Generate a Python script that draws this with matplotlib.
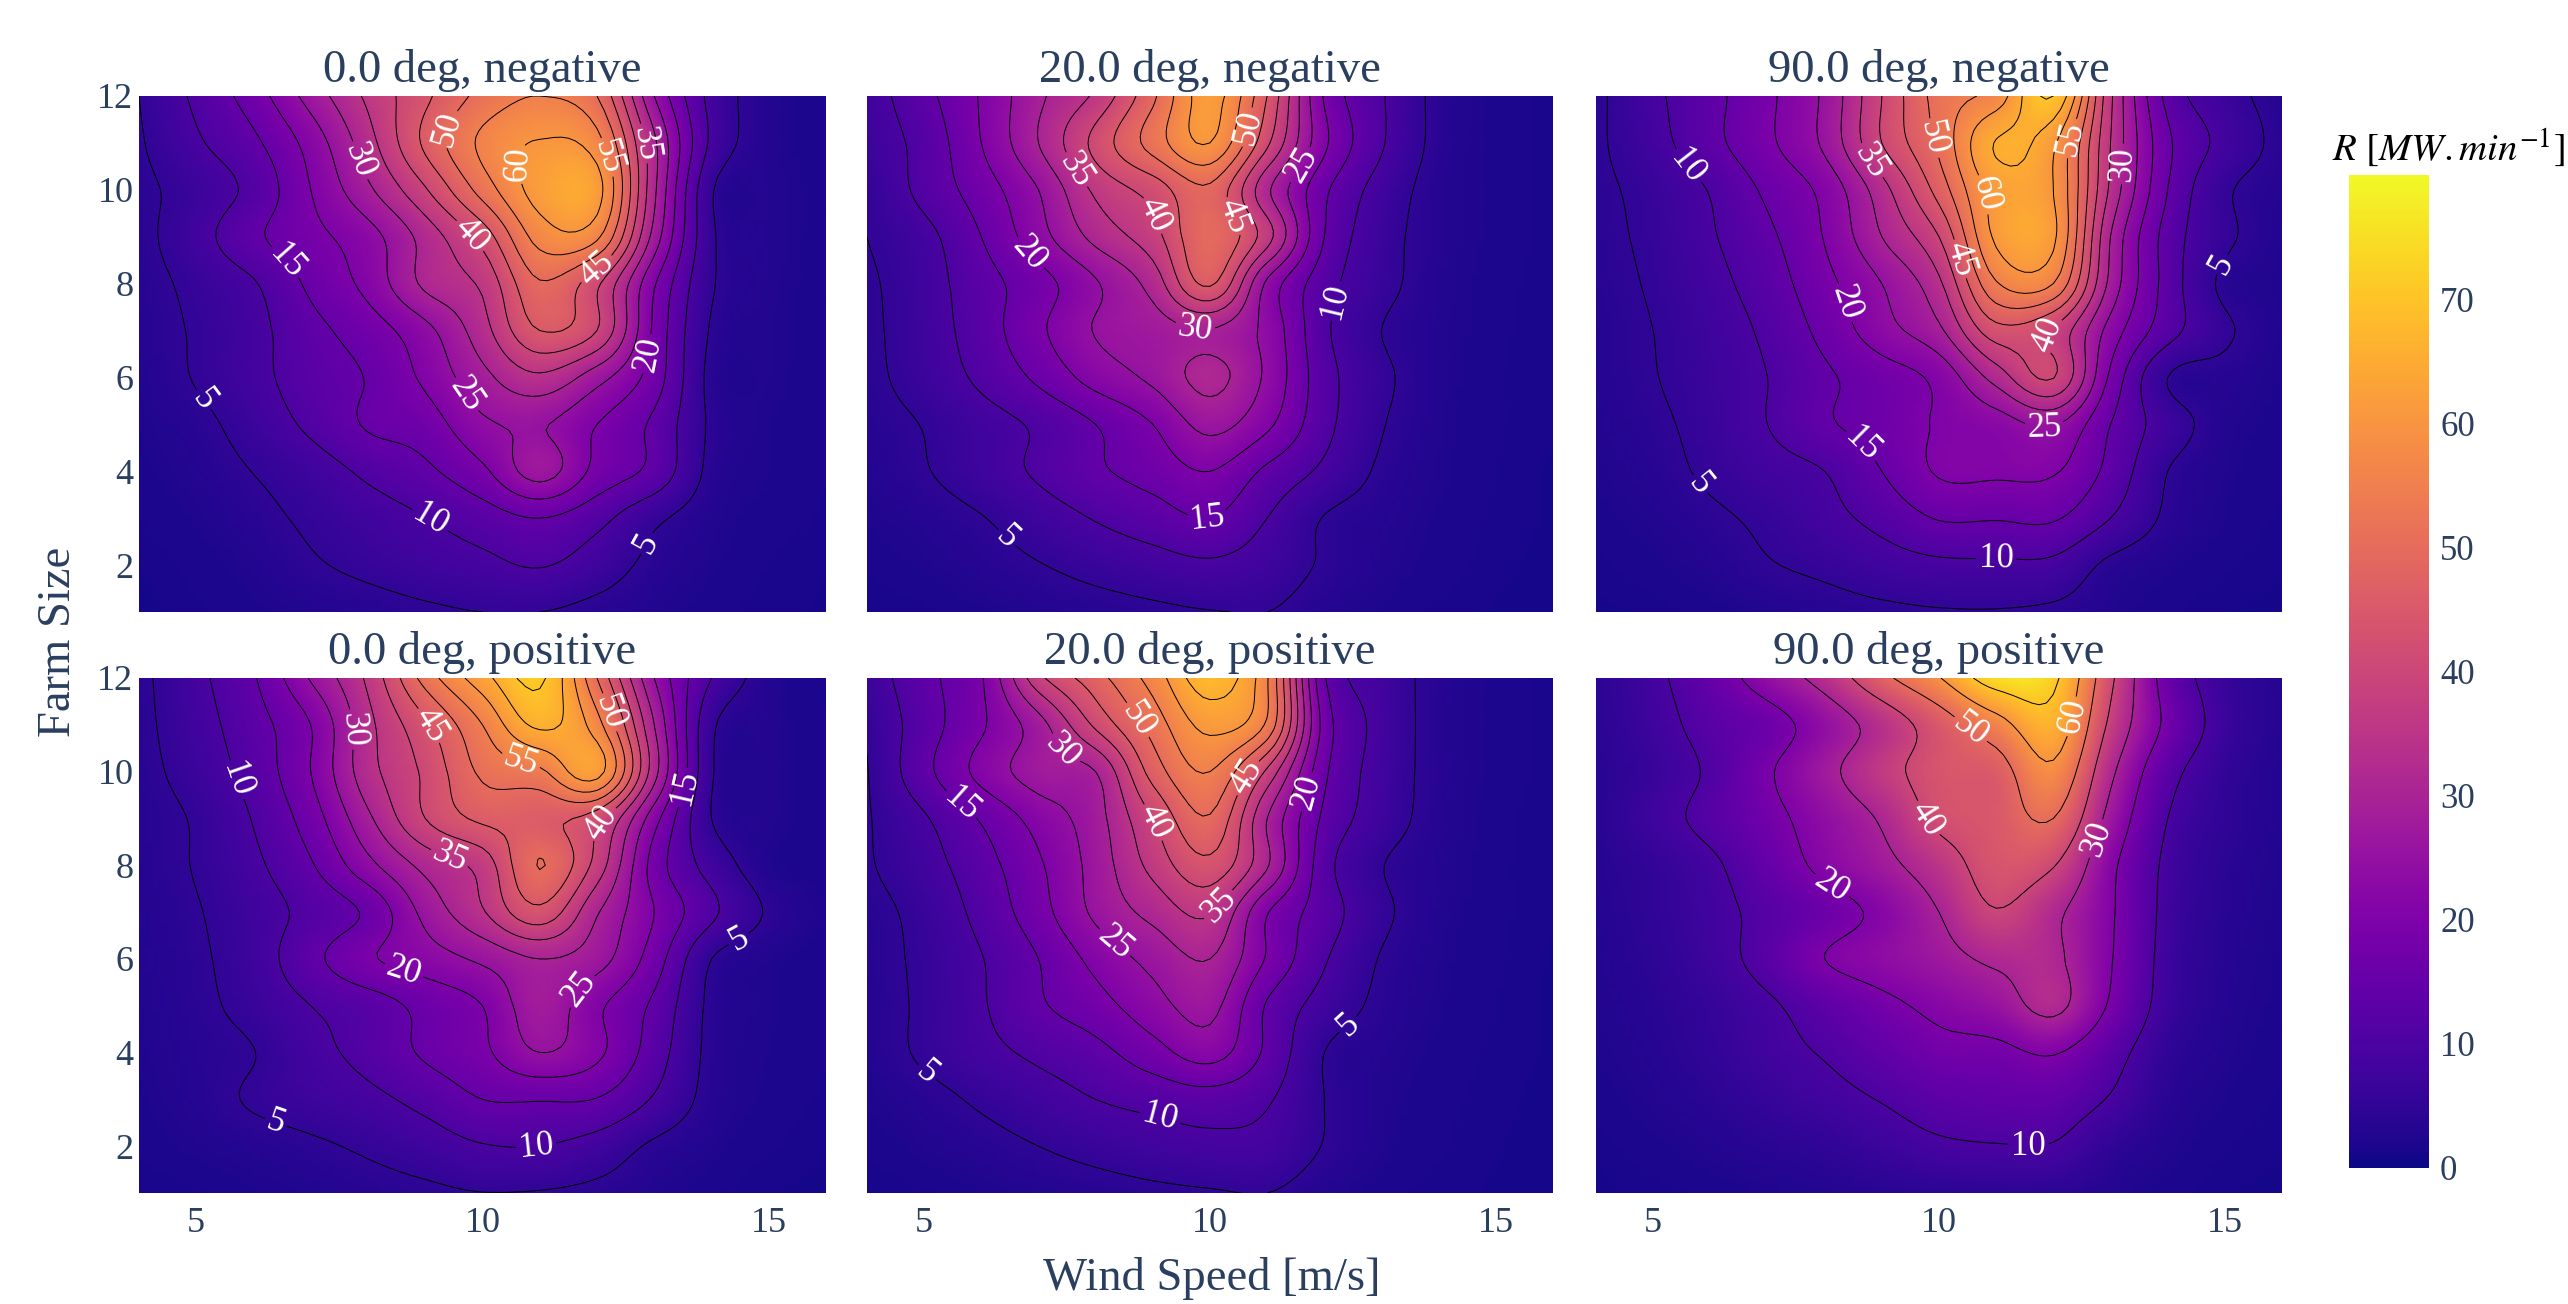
import matplotlib
matplotlib.use('Agg')
import matplotlib.pyplot as plt
import numpy as np

wind_speed = np.arange(4, 17)
farm_size = np.arange(1, 13)

# rows are farm size 1..12, columns wind speed 4..16
deg0_negative = [
    [1.1, 1.5, 2.0, 2.6, 3.2, 4.2, 5.0, 5.0, 3.5, 2.5, 1.8, 1.4, 1.2],
    [1.3, 1.8, 2.7, 4.5, 6.0, 7.5, 8.8, 10.3, 7.5, 3.8, 2.3, 1.6, 1.3],
    [1.6, 2.3, 3.8, 5.8, 7.8, 9.9, 12.5, 15.0, 11.5, 6.0, 2.8, 1.9, 1.5],
    [1.9, 3.0, 5.1, 7.5, 11.0, 14.0, 19.0, 27.0, 18.5, 13.5, 3.8, 2.2, 1.6],
    [2.2, 3.8, 7.0, 11.0, 15.5, 17.5, 24.0, 25.5, 20.0, 14.0, 4.3, 2.3, 1.7],
    [2.6, 5.3, 8.5, 12.5, 15.3, 21.0, 28.5, 34.0, 27.0, 17.5, 3.8, 2.5, 1.7],
    [3.0, 5.5, 8.5, 13.5, 17.5, 23.5, 33.0, 45.0, 40.0, 19.0, 4.5, 2.6, 1.8],
    [3.3, 6.2, 9.6, 16.0, 21.5, 31.0, 36.0, 49.5, 41.0, 20.5, 5.5, 2.8, 1.8],
    [3.6, 8.0, 14.0, 18.5, 23.0, 32.0, 42.0, 57.0, 56.0, 28.0, 5.8, 3.0, 1.8],
    [3.9, 7.0, 11.5, 20.0, 29.0, 39.5, 52.0, 62.0, 62.0, 31.0, 5.5, 3.0, 1.8],
    [4.5, 9.3, 14.0, 22.0, 33.0, 46.0, 56.0, 60.3, 57.0, 31.0, 9.0, 3.0, 1.9],
    [5.0, 11.0, 17.5, 27.0, 36.0, 44.0, 51.5, 55.0, 50.0, 25.0, 8.5, 3.0, 1.8],
]
deg20_negative = [
    [1.2, 1.5, 2.0, 2.6, 3.2, 4.0, 4.8, 5.0, 3.0, 2.0, 1.5, 1.2, 1.0],
    [1.7, 2.3, 3.3, 4.8, 6.5, 8.0, 9.2, 7.5, 4.5, 2.8, 1.9, 1.4, 1.1],
    [2.2, 3.2, 4.8, 7.5, 10.3, 12.7, 15.0, 10.0, 4.8, 3.2, 2.1, 1.5, 1.2],
    [2.8, 4.7, 7.5, 10.7, 14.2, 17.0, 20.0, 14.0, 9.0, 4.3, 2.4, 1.6, 1.2],
    [3.3, 5.2, 8.0, 10.8, 15.0, 20.0, 26.5, 21.0, 11.5, 5.3, 2.6, 1.7, 1.3],
    [3.8, 7.0, 11.0, 16.0, 22.0, 26.0, 31.5, 24.0, 12.0, 6.0, 2.8, 1.7, 1.3],
    [4.0, 7.5, 12.5, 19.0, 25.3, 27.5, 29.7, 23.5, 11.0, 5.0, 2.8, 1.8, 1.3],
    [4.2, 7.8, 13.0, 18.0, 24.5, 32.0, 45.7, 24.0, 12.0, 6.5, 3.0, 1.9, 1.3],
    [5.0, 8.5, 15.0, 23.0, 31.5, 38.0, 49.5, 37.0, 15.0, 7.0, 3.2, 2.0, 1.4],
    [5.3, 11.5, 17.5, 25.0, 36.0, 42.0, 49.0, 31.0, 16.0, 8.0, 3.3, 2.0, 1.4],
    [7.0, 11.8, 20.0, 30.0, 41.5, 52.0, 60.0, 41.0, 21.0, 10.5, 3.8, 2.0, 1.4],
    [7.5, 13.5, 20.5, 29.0, 36.0, 49.0, 62.0, 45.0, 19.5, 10.5, 3.8, 2.0, 1.4],
]
deg90_negative = [
    [1.1, 1.4, 1.8, 2.5, 3.2, 4.0, 4.6, 4.7, 4.0, 2.5, 1.7, 1.3, 1.1],
    [1.5, 2.0, 3.0, 4.7, 6.0, 7.8, 9.0, 9.2, 8.8, 4.0, 2.4, 1.7, 1.3],
    [1.9, 2.7, 4.2, 6.0, 8.5, 11.5, 15.3, 15.3, 15.5, 10.0, 4.2, 2.2, 1.5],
    [2.3, 3.5, 5.8, 8.0, 10.0, 15.0, 20.5, 20.8, 20.5, 13.5, 5.0, 2.5, 1.7],
    [2.7, 4.2, 6.5, 10.0, 14.3, 17.0, 20.5, 22.5, 25.5, 15.0, 7.5, 3.0, 1.9],
    [3.0, 4.8, 7.0, 10.0, 14.2, 17.5, 21.5, 32.0, 40.2, 19.0, 5.0, 3.5, 2.0],
    [3.1, 5.0, 7.5, 11.0, 16.5, 23.0, 29.0, 43.0, 39.5, 23.0, 12.0, 5.8, 2.2],
    [3.5, 5.5, 8.5, 12.5, 18.5, 25.0, 34.0, 54.5, 55.0, 28.5, 13.0, 4.0, 2.3],
    [3.8, 6.0, 9.5, 14.0, 20.3, 30.0, 40.0, 61.0, 61.0, 30.0, 13.0, 6.0, 2.5],
    [4.0, 6.5, 10.3, 16.0, 21.5, 33.0, 47.0, 62.0, 60.0, 34.0, 15.0, 5.8, 3.0],
    [4.2, 8.2, 13.5, 19.0, 26.0, 40.0, 51.0, 65.3, 61.0, 35.0, 16.0, 8.5, 3.5],
    [4.0, 9.0, 13.5, 19.0, 26.0, 40.0, 52.0, 57.0, 70.0, 36.0, 13.5, 7.0, 3.0],
]
deg0_positive = [
    [1.2, 1.5, 2.0, 2.5, 3.3, 4.0, 4.9, 4.7, 3.8, 2.6, 1.7, 1.3, 1.1],
    [1.7, 2.4, 3.2, 4.3, 5.7, 7.5, 9.7, 10.0, 8.0, 4.3, 2.5, 1.7, 1.3],
    [2.0, 3.3, 5.5, 7.2, 8.8, 11.5, 15.0, 15.3, 14.8, 9.5, 3.5, 2.0, 1.5],
    [2.3, 3.5, 4.9, 8.5, 11.5, 15.7, 19.0, 25.0, 21.0, 12.5, 3.8, 2.2, 1.6],
    [2.5, 4.0, 6.5, 10.0, 12.5, 16.5, 20.0, 28.0, 21.0, 14.0, 4.0, 2.4, 1.7],
    [2.7, 4.3, 7.5, 13.5, 19.3, 22.5, 26.0, 30.0, 27.0, 17.5, 5.0, 2.5, 1.8],
    [2.9, 4.7, 7.7, 11.5, 16.0, 26.5, 34.5, 43.5, 30.5, 20.0, 11.0, 4.5, 2.0],
    [3.1, 5.3, 9.0, 14.5, 23.5, 31.5, 37.0, 50.2, 38.0, 18.0, 8.0, 2.6, 1.8],
    [3.3, 5.5, 10.3, 17.5, 29.0, 40.0, 46.0, 46.0, 42.0, 22.0, 5.0, 2.7, 1.7],
    [3.5, 7.0, 12.0, 20.0, 33.0, 41.0, 51.0, 54.0, 62.0, 32.0, 5.5, 2.8, 1.7],
    [3.7, 8.0, 13.0, 20.0, 33.5, 44.0, 55.0, 66.0, 57.0, 30.0, 6.0, 2.8, 1.6],
    [3.8, 8.8, 14.5, 25.5, 36.0, 52.0, 63.0, 71.0, 50.0, 25.0, 10.0, 3.0, 1.5],
]
deg20_positive = [
    [1.2, 1.5, 2.0, 2.6, 3.2, 4.0, 4.6, 5.0, 2.8, 1.9, 1.4, 1.2, 1.1],
    [1.7, 2.5, 3.6, 5.0, 6.5, 7.8, 8.7, 8.5, 4.8, 2.5, 1.7, 1.3, 1.1],
    [2.2, 3.6, 5.7, 7.8, 10.0, 11.5, 12.7, 10.5, 5.0, 2.7, 1.8, 1.4, 1.1],
    [2.7, 5.7, 8.5, 11.0, 13.5, 18.0, 22.0, 14.0, 5.0, 3.0, 2.0, 1.5, 1.2],
    [3.0, 5.8, 9.5, 14.3, 18.0, 23.0, 26.5, 14.5, 8.0, 4.0, 2.3, 1.6, 1.2],
    [3.2, 6.0, 9.8, 15.0, 21.5, 26.5, 30.0, 19.5, 10.5, 4.7, 2.5, 1.7, 1.2],
    [3.5, 6.5, 11.5, 18.0, 26.0, 31.5, 35.5, 20.3, 12.5, 6.0, 2.8, 1.8, 1.3],
    [4.5, 8.0, 13.0, 19.3, 27.0, 36.5, 43.5, 30.5, 12.0, 5.2, 3.0, 1.8, 1.3],
    [4.6, 9.5, 15.5, 22.0, 28.0, 40.0, 49.5, 30.0, 14.0, 7.5, 3.3, 1.9, 1.3],
    [4.8, 13.5, 21.5, 27.5, 30.0, 47.0, 55.0, 39.0, 16.0, 8.0, 3.5, 2.0, 1.4],
    [5.5, 12.7, 19.3, 28.0, 41.0, 52.0, 61.5, 54.0, 18.0, 8.5, 3.4, 2.0, 1.4],
    [7.0, 13.7, 19.5, 38.5, 48.0, 57.0, 68.0, 55.5, 15.5, 8.0, 3.5, 2.0, 1.4],
]
deg90_positive = [
    [1.1, 1.4, 1.7, 2.2, 2.8, 3.4, 3.9, 4.2, 4.0, 2.8, 1.8, 1.3, 1.1],
    [1.4, 2.0, 2.8, 3.8, 5.0, 7.0, 9.0, 9.7, 9.6, 5.0, 2.7, 1.7, 1.3],
    [1.8, 2.7, 4.0, 6.0, 8.0, 10.3, 13.0, 14.0, 14.0, 9.5, 3.8, 2.2, 1.5],
    [2.2, 3.3, 5.3, 8.0, 10.5, 14.0, 17.5, 18.0, 20.5, 13.0, 5.0, 2.7, 1.7],
    [2.5, 3.8, 6.0, 9.0, 13.5, 18.0, 22.0, 25.5, 32.0, 19.0, 7.0, 3.2, 1.9],
    [2.7, 4.5, 7.5, 12.5, 20.0, 23.5, 27.0, 31.5, 31.5, 20.5, 7.5, 3.5, 2.0],
    [3.0, 5.0, 8.0, 12.0, 16.5, 22.0, 30.0, 39.5, 32.0, 21.0, 8.0, 3.8, 2.2],
    [3.3, 5.5, 8.8, 15.0, 22.0, 27.5, 35.0, 44.0, 40.5, 22.0, 8.5, 4.2, 2.4],
    [3.5, 7.5, 12.0, 17.5, 24.0, 31.0, 42.0, 45.0, 50.0, 27.0, 10.0, 5.0, 2.6],
    [3.5, 6.5, 11.0, 19.0, 27.5, 36.5, 44.0, 46.0, 58.0, 32.0, 13.0, 5.5, 2.8],
    [4.0, 7.5, 12.5, 16.5, 24.5, 34.0, 45.0, 56.0, 66.0, 38.0, 18.0, 7.0, 3.0],
    [4.0, 8.5, 15.0, 24.5, 33.5, 47.5, 59.5, 75.0, 72.0, 42.0, 16.0, 6.5, 3.0],
]

titles = ['0.0 deg, negative', '20.0 deg, negative', '90.0 deg, negative',
          '0.0 deg, positive', '20.0 deg, positive', '90.0 deg, positive']
panels = [deg0_negative, deg20_negative, deg90_negative,
          deg0_positive, deg20_positive, deg90_positive]
level_steps = [5, 5, 5, 5, 5, 10]

# where the contour labels sit (wind speed, farm size)
label_spots = [
    [(5.1, 5.5), (12.9, 2.45), (9.05, 2.9), (6.55, 8.45), (12.9, 6.5), (9.8, 5.7), (7.8, 10.6),
     (12.9, 11), (9.9, 9.15), (12, 8.3), (9.4, 11.3), (12.2, 10.7), (10.9, 10.55)],
    [(6.5, 2.65), (12.3, 7.6), (9.95, 3), (6.9, 8.7), (11.5, 10.6), (9.75, 7.1), (7.75, 10.5),
     (9.1, 9.5), (10.35, 9.4), (10.6, 11.35)],
    [(5.8, 3.7), (14.9, 8.45), (5.65, 10.55), (11, 2.3), (8.55, 4.45), (8.25, 7.55), (11.85, 5.05),
     (13.3, 10.55), (8.85, 10.65), (11.8, 7), (10.3, 8.5), (9.9, 11.1), (12.3, 11.1), (11.15, 10)],
    [(6.4, 2.55), (14.4, 6.6), (5.55, 9.75), (10.95, 1.85), (13.55, 9.65), (8.6, 5.65), (11.75, 5.3),
     (7.7, 10.9), (9.45, 8.25), (12, 9), (9.15, 11.05), (12.3, 11.3), (10.65, 10.15)],
    [(5.1, 3.65), (12.45, 4.55), (9.1, 2.5), (5.65, 9.3), (11.6, 9.6), (8.3, 6.3), (7.55, 10.6),
     (10.25, 7.05), (9.15, 9), (10.55, 9.95), (8.85, 11.2)],
    [(11.57, 2.12), (8.05, 7.4), (12.8, 8.55), (9.8, 9), (10.55, 10.9), (12.25, 11.2)],
]

W, H = 2568, 1304
INK = '#2a3f5f'
plt.rcParams['font.family'] = ['Liberation Serif', 'DejaVu Serif']
plt.rcParams['mathtext.fontset'] = 'stix'


def box(left, top, right, bottom):
    """pixel box to figure fractions"""
    return [left / W, 1 - bottom / H, (right - left) / W, (bottom - top) / H]


def refine_rows(z, n):
    """Catmull-Rom along the first axis, the heatmap in the original is smoothed too"""
    p = np.concatenate([2 * z[:1] - z[1:2], z, 2 * z[-1:] - z[-2:-1]])
    rows = []
    for i in range(1, len(p) - 2):
        for t in np.arange(n) / n:
            rows.append(0.5 * (2 * p[i] + (p[i + 1] - p[i - 1]) * t
                               + (2 * p[i - 1] - 5 * p[i] + 4 * p[i + 1] - p[i + 2]) * t ** 2
                               + (3 * p[i] - p[i - 1] - 3 * p[i + 1] + p[i + 2]) * t ** 3))
    rows.append(p[-2])
    return np.array(rows)


def refine(z, n=8):
    z = refine_rows(np.array(z, dtype=float), n)
    z = refine_rows(z.T, n).T
    return np.clip(z, 0, None)


fig = plt.figure(figsize=(W / 200, H / 200), dpi=200, facecolor='white')

col_edges = [(139, 826), (867, 1553), (1596, 2282)]
row_edges = [(96, 612), (678, 1193)]
fine_x = np.linspace(wind_speed[0], wind_speed[-1], (len(wind_speed) - 1) * 8 + 1)
fine_y = np.linspace(farm_size[0], farm_size[-1], (len(farm_size) - 1) * 8 + 1)

mesh = None
for i, values in enumerate(panels):
    row, col = divmod(i, 3)
    ax = fig.add_axes(box(col_edges[col][0], row_edges[row][0], col_edges[col][1], row_edges[row][1]))
    z = refine(values)
    mesh = ax.pcolormesh(fine_x, fine_y, z, cmap='plasma', vmin=0, vmax=80, shading='gouraud')
    step = level_steps[i]
    cs = ax.contour(fine_x, fine_y, z, levels=np.arange(step, 80, step), colors='black', linewidths=0.35)
    ax.clabel(cs, manual=label_spots[i], fmt='%d', fontsize=12.5, colors='white', inline=True, inline_spacing=3)
    ax.set_xlim(4, 16)
    ax.set_ylim(1, 12)
    ax.set_title(titles[i], fontsize=16.8, color=INK, pad=5)
    ax.set_xticks([5, 10, 15])
    ax.set_yticks([2, 4, 6, 8, 10, 12])
    ax.tick_params(length=0, labelsize=13, labelcolor=INK, pad=2,
                   labelleft=col == 0, labelbottom=row == 1)
    ax.tick_params(axis='x', pad=5)
    for spine in ax.spines.values():
        spine.set_visible(False)

cax = fig.add_axes(box(2349, 175, 2429, 1168))
cbar = fig.colorbar(mesh, cax=cax)
cbar.outline.set_visible(False)
cbar.set_ticks(np.arange(0, 80, 10))
cbar.ax.tick_params(length=0, labelsize=12.5, labelcolor=INK, pad=4)

fig.text(2332 / W, 1 - 160 / H, r'$R\ [MW.min^{-1}]$', fontsize=14, color='black', ha='left', va='baseline')
fig.text(1212 / W, 1 - 1278 / H, 'Wind Speed [m/s]', fontsize=16.8, color=INK, ha='center', va='center')
fig.text(59 / W, 1 - 642 / H, 'Farm Size', fontsize=16.8, color=INK, rotation=90, ha='center', va='center')

fig.savefig('out.png', dpi=200, facecolor='white')
plt.close(fig)
